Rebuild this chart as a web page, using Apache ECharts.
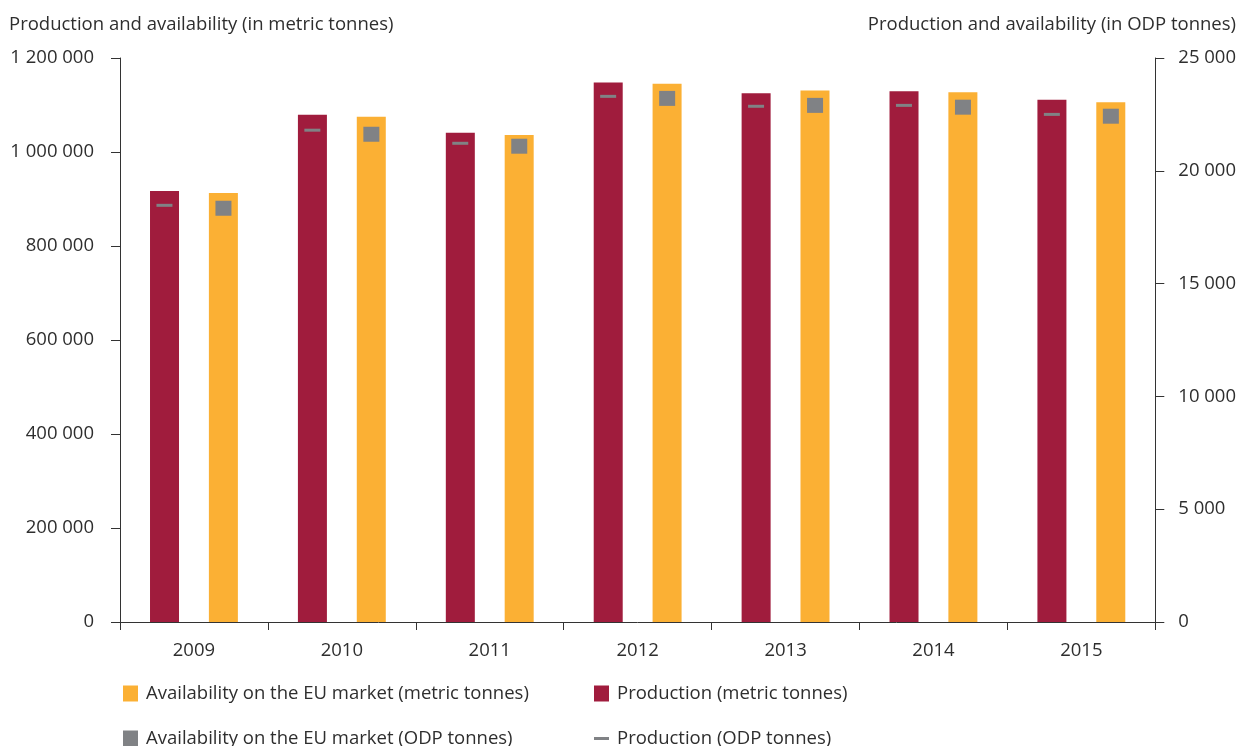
<!DOCTYPE html>
<html>
<head>
<meta charset="utf-8">
<script src="https://cdn.jsdelivr.net/npm/echarts@6/dist/echarts.min.js"></script>
<style>html,body{margin:0;padding:0;background:#fff}#c{width:1239px;height:746px}</style>
</head>
<body>
<div id="c"></div>
<script>
const years = ['2009','2010','2011','2012','2013','2014','2015'];
const productionMetric = [917000, 1079000, 1041000, 1148000, 1125000, 1129000, 1111000];
const availabilityMetric = [913000, 1075000, 1036000, 1145000, 1131000, 1127000, 1106000];
const productionODP = [18470, 21800, 21220, 23300, 22860, 22900, 22500];
const availabilityODP = [18340, 21620, 21090, 23210, 22900, 22820, 22420];

const FONT = '"Open Sans", "Noto Sans", sans-serif';
const FS = 18.5;
const TXT = '#2e2e2e';
const AX = '#333333';
const fmt = v => String(v).replace(/\B(?=(\d{3})+(?!\d))/g, ' ');
const legText = {fontFamily: FONT, fontSize: FS, color: TXT, padding: [0, 0, 0, 3]};

const chart = echarts.init(document.getElementById('c'), null, {renderer: 'canvas'});
chart.setOption({
  animation: false,
  textStyle: {fontFamily: FONT},
  title: [
    {text: 'Production and availability (in metric tonnes)', left: 4, top: 10,
     textStyle: {fontFamily: FONT, fontSize: FS, fontWeight: 'normal', color: TXT}},
    {text: 'Production and availability (in ODP tonnes)', right: -2, top: 10,
     textStyle: {fontFamily: FONT, fontSize: FS, fontWeight: 'normal', color: TXT}}
  ],
  grid: {left: 120, right: 83, top: 58, bottom: 124, containLabel: false},
  legend: [
    {data: ['Availability on the EU market (metric tonnes)'], left: 123, top: 684, padding: 0, icon: 'rect',
     itemWidth: 15, itemHeight: 16, textStyle: legText},
    {data: ['Production (metric tonnes)'], left: 594, top: 684, padding: 0, icon: 'rect',
     itemWidth: 15, itemHeight: 16, textStyle: legText},
    {data: ['Availability on the EU market (ODP tonnes)'], left: 123, top: 729, padding: 0, icon: 'rect',
     itemWidth: 15, itemHeight: 16, textStyle: legText},
    {data: ['Production (ODP tonnes)'], left: 594, top: 729, padding: 0, icon: 'rect',
     itemWidth: 15, itemHeight: 3, textStyle: legText}
  ],
  xAxis: {
    type: 'category', data: years, boundaryGap: true,
    axisLine: {lineStyle: {color: AX, width: 1}},
    axisTick: {show: true, length: 8, lineStyle: {color: AX}},
    axisLabel: {fontFamily: FONT, fontSize: FS, color: TXT, margin: 19}
  },
  yAxis: [
    {type: 'value', min: 0, max: 1200000, interval: 200000, position: 'left',
     axisLine: {show: true, lineStyle: {color: AX}},
     axisTick: {show: true, length: 9, lineStyle: {color: AX}},
     splitLine: {show: false},
     axisLabel: {fontFamily: FONT, fontSize: FS, color: TXT, margin: 26, formatter: fmt}},
    {type: 'value', min: 0, max: 25000, interval: 5000, position: 'right',
     axisLine: {show: true, lineStyle: {color: AX}},
     axisTick: {show: true, length: 9, lineStyle: {color: AX}},
     splitLine: {show: false},
     axisLabel: {fontFamily: FONT, fontSize: FS, color: TXT, margin: 23, formatter: fmt}}
  ],
  series: [
    {name: 'Production (metric tonnes)', type: 'bar', data: productionMetric,
     barWidth: 29, barGap: '103%', itemStyle: {color: '#A01C3D'}},
    {name: 'Availability on the EU market (metric tonnes)', type: 'bar', data: availabilityMetric,
     barWidth: 29, barGap: '103%', itemStyle: {color: '#FBB034'}},
    {name: 'Availability on the EU market (ODP tonnes)', type: 'scatter', yAxisIndex: 1,
     data: availabilityODP, symbol: 'rect', symbolSize: [16, 15], symbolOffset: [29.5, 0],
     itemStyle: {color: '#808285', opacity: 1}, z: 5},
    {name: 'Production (ODP tonnes)', type: 'scatter', yAxisIndex: 1,
     data: productionODP, symbol: 'rect', symbolSize: [16, 3], symbolOffset: [-29.5, 0],
     itemStyle: {color: '#808285', opacity: 1}, z: 5}
  ]
});
</script>
</body>
</html>
